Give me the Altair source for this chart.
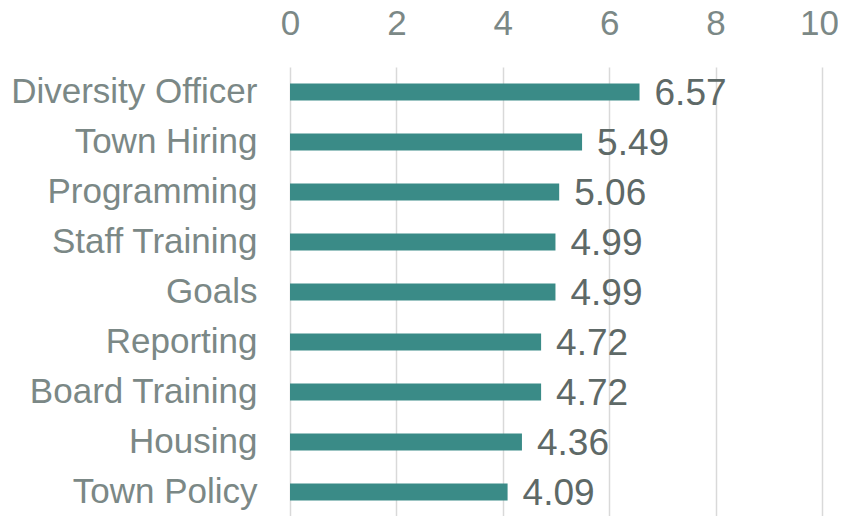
import altair as alt
import pandas as pd

categories = ["Diversity Officer", "Town Hiring", "Programming", "Staff Training",
              "Goals", "Reporting", "Board Training", "Housing", "Town Policy"]
values = [6.57, 5.49, 5.06, 4.99, 4.99, 4.72, 4.72, 4.36, 4.09]
x_ticks = [0, 2, 4, 6, 8, 10]

df = pd.DataFrame({"cat": categories, "val": values})
df["label"] = df["val"].map(lambda v: f"{v:.2f}")

FONT = "Liberation Sans"
AXIS_COLOR = "#7b8886"
VAL_COLOR = "#5e6967"
BAR_COLOR = "#3a8b87"

y_enc = alt.Y("cat:N", sort=categories, title=None,
              scale=alt.Scale(paddingInner=0.66, paddingOuter=0.33),
              axis=alt.Axis(labelFont=FONT, labelFontSize=35, labelColor=AXIS_COLOR,
                            labelPadding=33, ticks=False, domain=False, grid=False,
                            labelLimit=400))
x_enc = alt.X("val:Q", title=None,
              scale=alt.Scale(domain=[0, 10], nice=False),
              axis=alt.Axis(orient="top", values=x_ticks, labelFont=FONT,
                            labelFontSize=35, labelColor=AXIS_COLOR, labelPadding=26,
                            labelFlush=False, labelOverlap=False,
                            labelOffset={"condition": {"test": "datum.value == 10", "value": -3},
                                         "value": 0},
                            ticks=False, domain=False, grid=True,
                            gridColor="#d9d9d9", gridWidth=1.5))

bars = alt.Chart(df).mark_bar(color=BAR_COLOR, size=17).encode(x=x_enc, y=y_enc)
text = alt.Chart(df).mark_text(align="left", baseline="middle", dx=15, dy=2,
                               font=FONT, fontSize=37, color=VAL_COLOR).encode(
    x="val:Q", y=alt.Y("cat:N", sort=categories), text="label:N")

chart = (bars + text).properties(
    width=532, height=450,
    autosize=alt.AutoSizeParams(type="none"),
    padding={"left": 282, "top": 59, "right": 16, "bottom": 0},
).configure_view(stroke=None)

chart.save("out.html", embed_options={"renderer": "svg", "actions": False})
